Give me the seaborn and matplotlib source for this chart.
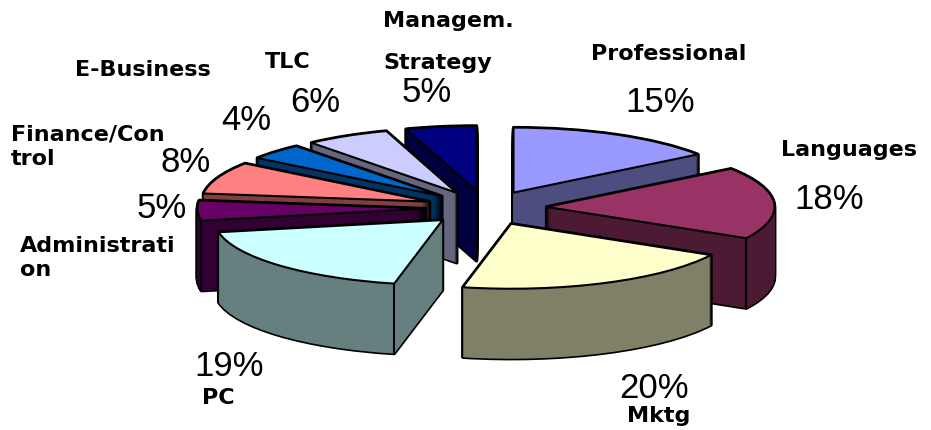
import numpy as np
import matplotlib
matplotlib.use("Agg")
import matplotlib.pyplot as plt
import seaborn as sns

categories = ["Professional", "Languages", "Mktg", "PC", "Administration",
              "Finance/Control", "E-Business", "TLC", "Managem. Strategy"]
values = [15.0, 18.0, 20.4, 18.6, 5.0, 8.0, 4.0, 6.0, 5.0]
top_colors = ["#9999FF", "#993366", "#FFFFCC", "#CCFFFF", "#660066",
              "#FF8080", "#0066CC", "#CCCCFF", "#000080"]
side_colors = ["#4D4D80", "#4D1A33", "#808066", "#668080", "#330033",
               "#804040", "#003366", "#666680", "#000040"]

sns.set_theme(style="white")
W, H = 931, 430
RX, RY = 228.0, 65.0      # pixels per data unit of the squashed pie
CX, CY = 486.0, 208.0     # pie centre, pixels
DEPTH = 70                # extrusion, pixels
EXPLODE = 0.266

fig = plt.figure(figsize=(W / 100, H / 100), dpi=100)
ax = fig.add_axes([0, 0, 1, 1])
explode = [EXPLODE] * len(values)


def layer(dy, colors, **wedgeprops):
    w, _ = ax.pie(values, colors=colors, startangle=90, counterclock=False,
                  explode=explode, center=(0, -dy), radius=1,
                  wedgeprops=wedgeprops)
    return w


# back-to-front order of the slices
probe = layer(0, top_colors)
mids = [np.radians((w.theta1 + w.theta2) / 2) for w in probe]
rank = {i: r for r, i in enumerate(np.argsort([-np.sin(m) for m in mids]))}
geom = [(w.center, w.theta1, w.theta2) for w in probe]
for w in probe:
    w.remove()

d = DEPTH / RY
steps = np.linspace(0, d, DEPTH + 1)
for dy in steps:
    for i, w in enumerate(layer(dy, ["black"] * len(values), edgecolor="black",
                                linewidth=2.4, joinstyle="round")):
        w.set_zorder(10 + 10 * rank[i])
for dy in steps:
    for i, w in enumerate(layer(dy, side_colors, edgecolor="none", linewidth=0)):
        w.set_zorder(11 + 10 * rank[i])

# vertical edges of the extrusion
for i, (c, t1, t2) in enumerate(geom):
    z = 12 + 10 * rank[i]
    a1, a2 = np.radians(t1), np.radians(t2)
    f1 = np.sin(a1 - np.pi / 2) < 0   # face along theta1 shows
    f2 = np.sin(a2 + np.pi / 2) < 0   # face along theta2 shows
    pts = []
    if f1 and f2:
        pts.append((c[0], c[1]))
    if f1 and np.sin(a1) < 0:
        pts.append((c[0] + np.cos(a1), c[1] + np.sin(a1)))
    if f2 and np.sin(a2) < 0:
        pts.append((c[0] + np.cos(a2), c[1] + np.sin(a2)))
    for x, y in pts:
        ax.plot([x, x], [y, y - d], color="black", lw=1.5, zorder=z, solid_capstyle="butt")

for i, w in enumerate(layer(0, top_colors, edgecolor="black", linewidth=1.5, joinstyle="round")):
    w.set_zorder(13 + 10 * rank[i])

ax.set_aspect("auto")
ax.set_xlim(-CX / RX, (W - CX) / RX)
ax.set_ylim((CY - H) / RY, CY / RY)
ax.set_axis_off()


def px(x, y):
    return x / W, 1 - y / H


pct_style = dict(family="Liberation Sans", fontsize=25, color="black", ha="center",
                 va="center", transform=ax.transAxes, zorder=500)
lab_style = dict(family="DejaVu Sans", fontweight="bold", fontsize=16, color="black",
                 ha="left", va="center", transform=ax.transAxes, zorder=500,
                 linespacing=1.3)

pct_pos = [(660, 102), (829, 200), (654, 389), (229, 367), (162, 209),
           (186, 162), (246, 120), (315, 103), (427, 92)]
for v, (x, y) in zip(values, pct_pos):
    ax.text(*px(x, y), f"{round(v)}%", **pct_style)

label_items = [("Professional", 591, 54), ("Languages", 781, 150), ("Mktg", 627, 416),
               ("PC", 202, 398), ("Administrati\non", 20, 258), ("Finance/Con\ntrol", 11, 147),
               ("E-Business", 75, 70), ("TLC", 265, 62)]
for t, x, y in label_items:
    ax.text(*px(x, y), t, **lab_style)
ax.text(*px(383, 21), "Managem.", **lab_style)
ax.text(*px(383, 63), "Strategy", **lab_style)

fig.savefig("out.png", dpi=100, facecolor="white")
